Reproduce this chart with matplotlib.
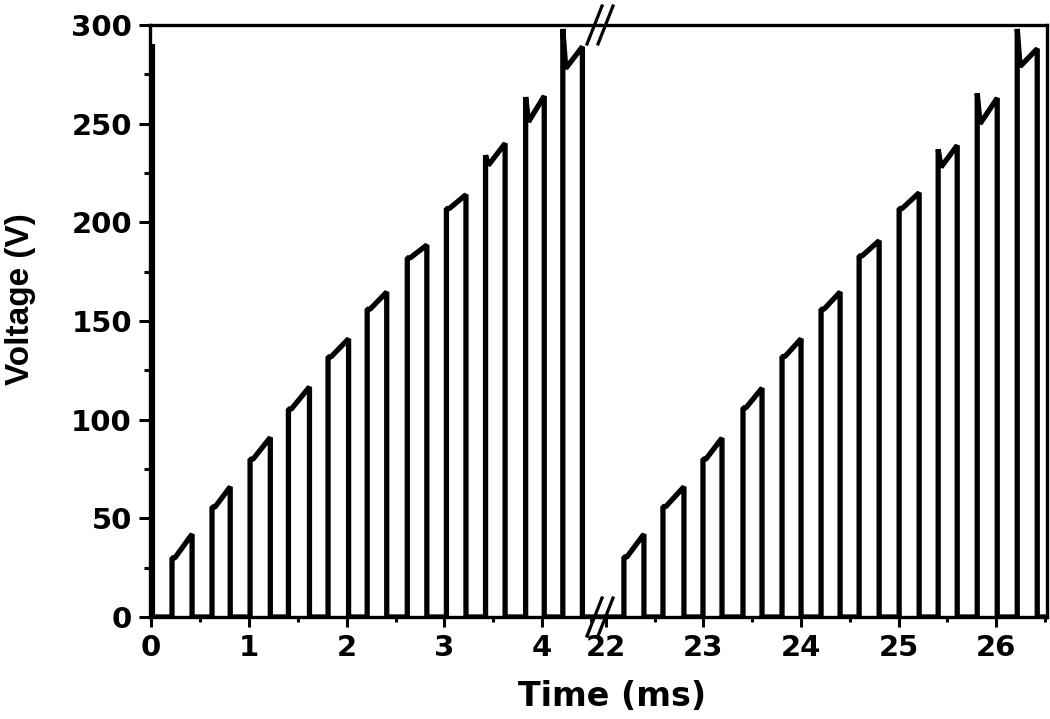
import matplotlib
matplotlib.use("Agg")
import matplotlib.pyplot as plt
from matplotlib.lines import Line2D
from matplotlib.ticker import MultipleLocator

# ---- Data ----
# left segment (0 - 4.6 ms)
left_head_ms = 0.015          # tail of the pulse just before t = 0
left_head_v = 289
left_rise_ms = [0.215, 0.624, 1.013, 1.405, 1.81, 2.21, 2.62, 3.02, 3.42, 3.83, 4.21]
left_fall_ms = [0.42, 0.81, 1.22, 1.62, 2.02, 2.41, 2.82, 3.22, 3.62, 4.02, 4.41]
left_on_v = [30, 55.7, 80, 105.4, 131.8, 156, 182, 207, 234, 263.5, 298]
left_dip_v = [30, 55.7, 80, 105.4, 131.8, 156, 182, 207, 229, 251, 278]
left_off_v = [42, 66, 91, 116.6, 141, 164.7, 188.5, 214, 240, 264, 289]

# right segment (22 - 26.5 ms)
right_rise_ms = [22.185, 22.585, 22.995, 23.405, 23.805, 24.205, 24.595, 25.005, 25.405, 25.805, 26.215]
right_fall_ms = [22.39, 22.80, 23.19, 23.60, 24.00, 24.40, 24.80, 25.21, 25.60, 26.01, 26.42]
right_on_v = [30.4, 56, 80, 106, 132, 156, 183, 207, 237, 265.4, 298]
right_dip_v = [30.4, 56, 80, 106, 132, 156, 183, 207, 228, 250, 279]
right_off_v = [42, 66, 90.7, 116, 141, 164.7, 190.7, 215, 239, 263, 288]

left_xlim = (-0.01, 4.59)
right_xlim = (21.94, 26.52)
y_lim = (0, 300)

LW = 3.8
SPINE_LW = 2.4


def build_trace(t_start, t_end, rise, fall, v_on, v_dip, v_off, head=None):
    t, v = [], []
    if head is not None:
        t += [head[0], head[0]]
        v += [head[1], 0]
    else:
        t.append(t_start)
        v.append(0)
    for r, f, a, d, b in zip(rise, fall, v_on, v_dip, v_off):
        settle = 0.03
        t += [r, r, r + settle, f, f]
        v += [0, a, d, b, 0]
    t.append(t_end)
    v.append(0)
    return t, v


def style_axis(ax, side):
    for s in ax.spines.values():
        s.set_linewidth(SPINE_LW)
    if side == "left":
        ax.spines["right"].set_visible(False)
    else:
        ax.spines["left"].set_visible(False)
    ax.xaxis.set_major_locator(MultipleLocator(1))
    ax.xaxis.set_minor_locator(MultipleLocator(0.5))
    ax.yaxis.set_major_locator(MultipleLocator(50))
    ax.yaxis.set_minor_locator(MultipleLocator(25))
    ax.tick_params(axis="x", which="major", direction="out", length=7, width=2.2,
                   pad=5, labelsize=21, top=False)
    ax.tick_params(axis="x", which="minor", direction="out", length=3.5, width=2.2, top=False)
    if side == "left":
        ax.tick_params(axis="y", which="major", direction="out", length=8, width=2.2,
                       pad=5, labelsize=21, right=False)
        ax.tick_params(axis="y", which="minor", direction="out", length=4, width=2.2, right=False)
    else:
        ax.tick_params(axis="y", which="both", left=False, right=False, labelleft=False)


def main():
    W, H = 1050, 719
    fig = plt.figure(figsize=(W / 100, H / 100), dpi=100)

    x0, xb, x1 = 150, 600, 1047
    y_top, y_bot = 25, 617
    bottom = 1 - y_bot / H
    height = (y_bot - y_top) / H

    ax_l = fig.add_axes([x0 / W, bottom, (xb - x0) / W, height])
    ax_r = fig.add_axes([xb / W, bottom, (x1 - xb) / W, height])

    t, v = build_trace(left_xlim[0], left_xlim[1], left_rise_ms, left_fall_ms,
                       left_on_v, left_dip_v, left_off_v,
                       head=(left_head_ms, left_head_v))
    ax_l.plot(t, v, color="black", linewidth=LW, solid_joinstyle="bevel")

    t, v = build_trace(right_xlim[0], right_xlim[1], right_rise_ms, right_fall_ms,
                       right_on_v, right_dip_v, right_off_v)
    ax_r.plot(t, v, color="black", linewidth=LW, solid_joinstyle="bevel")

    ax_l.set_xlim(*left_xlim)
    ax_r.set_xlim(*right_xlim)
    for ax in (ax_l, ax_r):
        ax.set_ylim(*y_lim)

    style_axis(ax_l, "left")
    style_axis(ax_r, "right")
    ax_l.set_xticks([0, 1, 2, 3, 4])
    ax_r.set_xticks([22, 23, 24, 25, 26])
    for lab in ax_l.get_xticklabels() + ax_r.get_xticklabels() + ax_l.get_yticklabels():
        lab.set_fontweight("bold")
        lab.set_family("DejaVu Sans")

    # break marks "//" on top and bottom spines
    for yc in (y_top, y_bot):
        for dx in (-5.5, 5.5):
            xs = [(xb + dx - 7.5) / W, (xb + dx + 7.5) / W]
            ys = [1 - (yc + 19) / H, 1 - (yc - 19) / H]
            fig.add_artist(Line2D(xs, ys, color="black", linewidth=2.3,
                                  transform=fig.transFigure))

    fig.text(612 / W, 1 - 697 / H, "Time (ms)", ha="center", va="center",
             fontsize=24, fontweight="bold", family="DejaVu Sans")
    fig.text(21 / W, 1 - 299 / H, "Voltage (V)", ha="center", va="center",
             rotation=90, fontsize=24, fontweight="bold", family="Liberation Sans")

    fig.savefig("out.png", dpi=100)


if __name__ == "__main__":
    main()
